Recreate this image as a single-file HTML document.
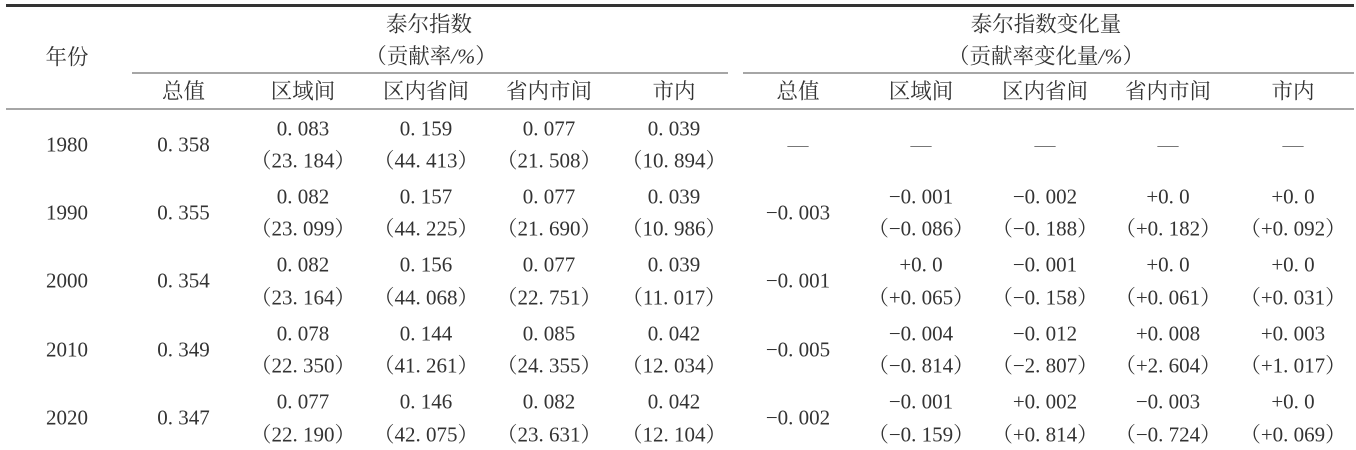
<!DOCTYPE html>
<html><head><meta charset="utf-8">
<style>
html,body{margin:0;padding:0;background:#fff;}
body{width:1356px;height:450px;position:relative;overflow:hidden;
font-family:"Liberation Serif","Noto Serif CJK SC",serif;color:#333;}
.t{position:absolute;transform:translate(-50%,-50%);line-height:1;white-space:nowrap;font-size:21px;}
.h{font-size:21.5px;}
.i{font-style:italic;}
.d{color:#777;font-size:21px;}
.ln{position:absolute;}
</style></head><body>
<div class="ln" style="left:6px;top:4px;width:1348px;height:3px;background:#333;"></div>
<div class="ln" style="left:132px;top:72px;width:596px;height:2px;background:#a6a6a6;"></div>
<div class="ln" style="left:743px;top:72px;width:611px;height:2px;background:#a6a6a6;"></div>
<div class="ln" style="left:6px;top:108px;width:1348px;height:2px;background:#a6a6a6;"></div>

<div class="t h" style="left:67px;top:58px;">年份</div>
<div class="t h" style="left:429px;top:25px;">泰尔指数</div>
<div class="t h" style="left:431px;top:57px;">（贡献率<span class="i">/%</span>）</div>
<div class="t h" style="left:1046px;top:25px;">泰尔指数变化量</div>
<div class="t h" style="left:1046px;top:57px;">（贡献率变化量<span class="i">/%</span>）</div>

<div class="t h" style="left:183.5px;top:92px;">总值</div>
<div class="t h" style="left:303px;top:92px;">区域间</div>
<div class="t h" style="left:426px;top:92px;">区内省间</div>
<div class="t h" style="left:549px;top:92px;">省内市间</div>
<div class="t h" style="left:674px;top:92px;">市内</div>
<div class="t h" style="left:798px;top:92px;">总值</div>
<div class="t h" style="left:921px;top:92px;">区域间</div>
<div class="t h" style="left:1045px;top:92px;">区内省间</div>
<div class="t h" style="left:1168px;top:92px;">省内市间</div>
<div class="t h" style="left:1293px;top:92px;">市内</div>

<!-- 1980 -->
<div class="t" style="left:67px;top:145px;">1980</div>
<div class="t" style="left:183.5px;top:145px;">0. 358</div>
<div class="t" style="left:303px;top:129px;">0. 083</div><div class="t" style="left:303px;top:161px;">（23. 184）</div>
<div class="t" style="left:426px;top:129px;">0. 159</div><div class="t" style="left:426px;top:161px;">（44. 413）</div>
<div class="t" style="left:549px;top:129px;">0. 077</div><div class="t" style="left:549px;top:161px;">（21. 508）</div>
<div class="t" style="left:674px;top:129px;">0. 039</div><div class="t" style="left:674px;top:161px;">（10. 894）</div>
<div class="t d" style="left:798px;top:145px;">—</div>
<div class="t d" style="left:921px;top:145px;">—</div>
<div class="t d" style="left:1045px;top:145px;">—</div>
<div class="t d" style="left:1168px;top:145px;">—</div>
<div class="t d" style="left:1293px;top:145px;">—</div>

<!-- 1990 -->
<div class="t" style="left:67px;top:213px;">1990</div>
<div class="t" style="left:183.5px;top:213px;">0. 355</div>
<div class="t" style="left:303px;top:197px;">0. 082</div><div class="t" style="left:303px;top:229px;">（23. 099）</div>
<div class="t" style="left:426px;top:197px;">0. 157</div><div class="t" style="left:426px;top:229px;">（44. 225）</div>
<div class="t" style="left:549px;top:197px;">0. 077</div><div class="t" style="left:549px;top:229px;">（21. 690）</div>
<div class="t" style="left:674px;top:197px;">0. 039</div><div class="t" style="left:674px;top:229px;">（10. 986）</div>
<div class="t" style="left:798px;top:213px;">−0. 003</div>
<div class="t" style="left:921px;top:197px;">−0. 001</div><div class="t" style="left:921px;top:229px;">（−0. 086）</div>
<div class="t" style="left:1045px;top:197px;">−0. 002</div><div class="t" style="left:1045px;top:229px;">（−0. 188）</div>
<div class="t" style="left:1168px;top:197px;">+0. 0</div><div class="t" style="left:1168px;top:229px;">（+0. 182）</div>
<div class="t" style="left:1293px;top:197px;">+0. 0</div><div class="t" style="left:1293px;top:229px;">（+0. 092）</div>

<!-- 2000 -->
<div class="t" style="left:67px;top:281px;">2000</div>
<div class="t" style="left:183.5px;top:281px;">0. 354</div>
<div class="t" style="left:303px;top:265px;">0. 082</div><div class="t" style="left:303px;top:298px;">（23. 164）</div>
<div class="t" style="left:426px;top:265px;">0. 156</div><div class="t" style="left:426px;top:298px;">（44. 068）</div>
<div class="t" style="left:549px;top:265px;">0. 077</div><div class="t" style="left:549px;top:298px;">（22. 751）</div>
<div class="t" style="left:674px;top:265px;">0. 039</div><div class="t" style="left:674px;top:298px;">（11. 017）</div>
<div class="t" style="left:798px;top:281px;">−0. 001</div>
<div class="t" style="left:921px;top:265px;">+0. 0</div><div class="t" style="left:921px;top:298px;">（+0. 065）</div>
<div class="t" style="left:1045px;top:265px;">−0. 001</div><div class="t" style="left:1045px;top:298px;">（−0. 158）</div>
<div class="t" style="left:1168px;top:265px;">+0. 0</div><div class="t" style="left:1168px;top:298px;">（+0. 061）</div>
<div class="t" style="left:1293px;top:265px;">+0. 0</div><div class="t" style="left:1293px;top:298px;">（+0. 031）</div>

<!-- 2010 -->
<div class="t" style="left:67px;top:350px;">2010</div>
<div class="t" style="left:183.5px;top:350px;">0. 349</div>
<div class="t" style="left:303px;top:334px;">0. 078</div><div class="t" style="left:303px;top:366px;">（22. 350）</div>
<div class="t" style="left:426px;top:334px;">0. 144</div><div class="t" style="left:426px;top:366px;">（41. 261）</div>
<div class="t" style="left:549px;top:334px;">0. 085</div><div class="t" style="left:549px;top:366px;">（24. 355）</div>
<div class="t" style="left:674px;top:334px;">0. 042</div><div class="t" style="left:674px;top:366px;">（12. 034）</div>
<div class="t" style="left:798px;top:350px;">−0. 005</div>
<div class="t" style="left:921px;top:334px;">−0. 004</div><div class="t" style="left:921px;top:366px;">（−0. 814）</div>
<div class="t" style="left:1045px;top:334px;">−0. 012</div><div class="t" style="left:1045px;top:366px;">（−2. 807）</div>
<div class="t" style="left:1168px;top:334px;">+0. 008</div><div class="t" style="left:1168px;top:366px;">（+2. 604）</div>
<div class="t" style="left:1293px;top:334px;">+0. 003</div><div class="t" style="left:1293px;top:366px;">（+1. 017）</div>

<!-- 2020 -->
<div class="t" style="left:67px;top:418px;">2020</div>
<div class="t" style="left:183.5px;top:418px;">0. 347</div>
<div class="t" style="left:303px;top:402px;">0. 077</div><div class="t" style="left:303px;top:435px;">（22. 190）</div>
<div class="t" style="left:426px;top:402px;">0. 146</div><div class="t" style="left:426px;top:435px;">（42. 075）</div>
<div class="t" style="left:549px;top:402px;">0. 082</div><div class="t" style="left:549px;top:435px;">（23. 631）</div>
<div class="t" style="left:674px;top:402px;">0. 042</div><div class="t" style="left:674px;top:435px;">（12. 104）</div>
<div class="t" style="left:798px;top:418px;">−0. 002</div>
<div class="t" style="left:921px;top:402px;">−0. 001</div><div class="t" style="left:921px;top:435px;">（−0. 159）</div>
<div class="t" style="left:1045px;top:402px;">+0. 002</div><div class="t" style="left:1045px;top:435px;">（+0. 814）</div>
<div class="t" style="left:1168px;top:402px;">−0. 003</div><div class="t" style="left:1168px;top:435px;">（−0. 724）</div>
<div class="t" style="left:1293px;top:402px;">+0. 0</div><div class="t" style="left:1293px;top:435px;">（+0. 069）</div>
</body></html>
